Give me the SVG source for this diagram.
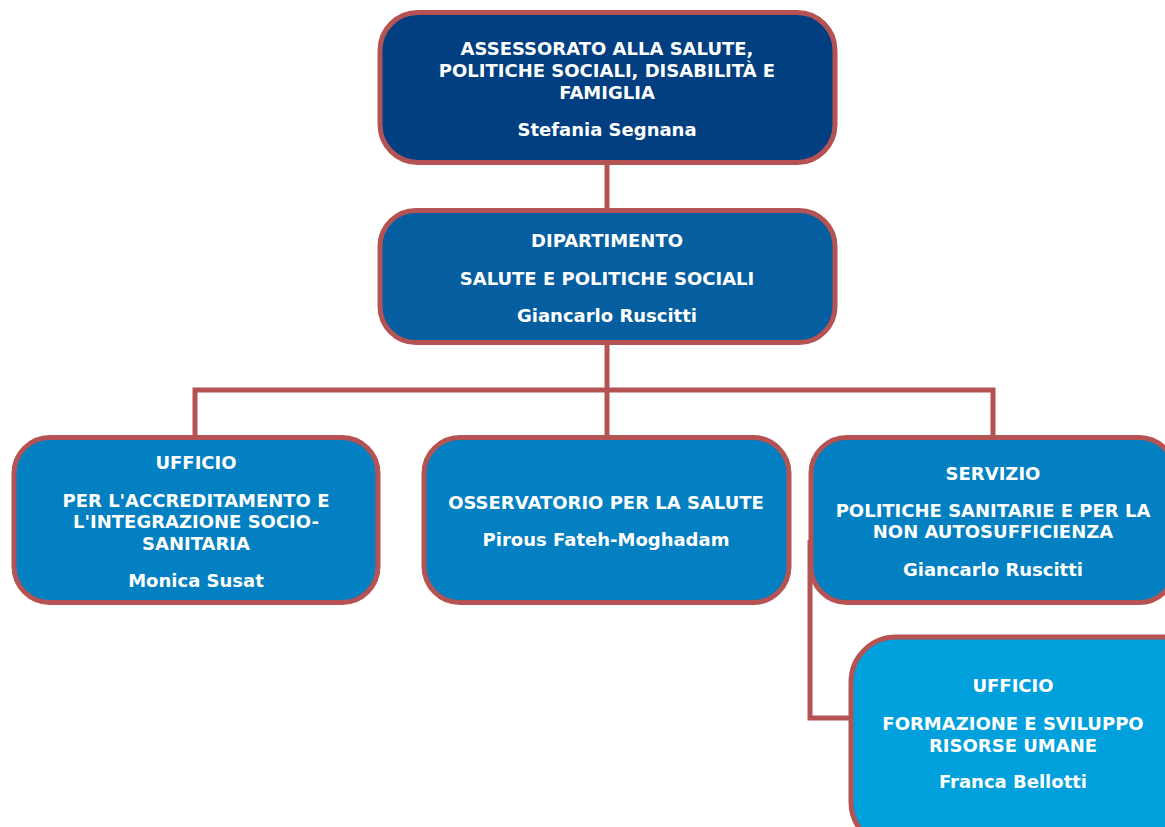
<svg xmlns="http://www.w3.org/2000/svg" width="1165" height="827" viewBox="0 0 1165 827">
  <style>
    .box { stroke: #b55254; stroke-width: 5; }
    .lvl0 { fill: #013f80; }
    .lvl1 { fill: #045e9f; }
    .lvl2 { fill: #0280c1; }
    .lvl3 { fill: #00a0dd; }
    .link { fill: none; stroke: #b55254; stroke-width: 5; }
    text { font-family: "DejaVu Sans", "Open Sans", sans-serif; font-weight: 700; font-size: 18px; fill: #ffffff; text-anchor: middle; }
  </style>
  <rect width="1165" height="827" fill="#ffffff"/>

  <!-- connectors -->
  <g id="connectors">
    <path class="link" d="M607 162 V211"/>
    <path class="link" d="M607 342 V437"/>
    <path class="link" d="M195 437 V390 H993 V437"/>
    <path class="link" d="M810 540 V718 H851"/>
  </g>

  <g id="assessorato">
    <rect class="box lvl0" x="380" y="12.5" width="455" height="150" rx="38"/>
    <text x="607" y="55">ASSESSORATO ALLA SALUTE,</text>
    <text x="607" y="77">POLITICHE SOCIALI, DISABILITÀ E</text>
    <text x="607" y="99">FAMIGLIA</text>
    <text x="607" y="136">Stefania Segnana</text>
  </g>

  <g id="dipartimento">
    <rect class="box lvl1" x="380" y="210.5" width="455" height="132" rx="36"/>
    <text x="607" y="247">DIPARTIMENTO</text>
    <text x="607" y="285">SALUTE E POLITICHE SOCIALI</text>
    <text x="607" y="322">Giancarlo Ruscitti</text>
  </g>

  <g id="ufficio-accreditamento">
    <rect class="box lvl2" x="14" y="437.5" width="364" height="165" rx="36"/>
    <text x="196" y="469">UFFICIO</text>
    <text x="196" y="507">PER L'ACCREDITAMENTO E</text>
    <text x="196" y="528">L'INTEGRAZIONE SOCIO-</text>
    <text x="196" y="550">SANITARIA</text>
    <text x="196" y="587">Monica Susat</text>
  </g>

  <g id="osservatorio">
    <rect class="box lvl2" x="424" y="437.5" width="365" height="165" rx="36"/>
    <text x="606" y="509">OSSERVATORIO PER LA SALUTE</text>
    <text x="606" y="546">Pirous Fateh-Moghadam</text>
  </g>

  <g id="servizio">
    <rect class="box lvl2" x="811" y="437.5" width="364" height="165" rx="36"/>
    <text x="993" y="480">SERVIZIO</text>
    <text x="993" y="517">POLITICHE SANITARIE E PER LA</text>
    <text x="993" y="538">NON AUTOSUFFICIENZA</text>
    <text x="993" y="576">Giancarlo Ruscitti</text>
  </g>

  <g id="ufficio-formazione">
    <rect class="box lvl3" x="851" y="637" width="365" height="210" rx="45"/>
    <text x="1013" y="692">UFFICIO</text>
    <text x="1013" y="730">FORMAZIONE E SVILUPPO</text>
    <text x="1013" y="752">RISORSE UMANE</text>
    <text x="1013" y="788">Franca Bellotti</text>
  </g>
</svg>
